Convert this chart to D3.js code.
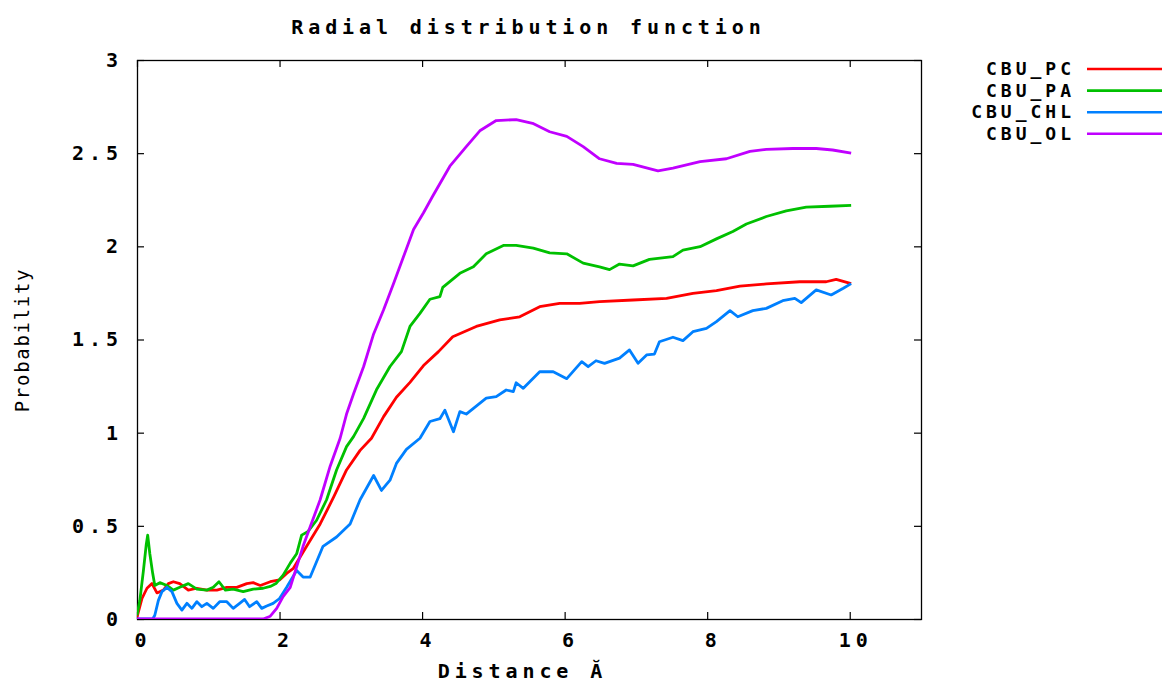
<!DOCTYPE html>
<html>
<head>
<meta charset="utf-8">
<script src="https://cdn.jsdelivr.net/npm/d3@7"></script>
<style>
  body { margin: 0; background: #fff; }
  text { font-family: "DejaVu Sans Mono", monospace; fill: #000; }
</style>
</head>
<body>
<svg id="chart" width="1162" height="684"></svg>
<script>
// readings: [distance, probability]
const cbuPC = [[0,0.01],[0.07,0.11],[0.14,0.165],[0.21,0.19],[0.28,0.14],[0.37,0.155],[0.44,0.19],[0.51,0.2],[0.6,0.19],[0.72,0.155],[0.84,0.165],[0.98,0.155],[1.12,0.155],[1.26,0.17],[1.4,0.17],[1.54,0.19],[1.63,0.195],[1.73,0.18],[1.87,0.2],[2.0,0.21],[2.1,0.245],[2.19,0.27],[2.38,0.39],[2.57,0.51],[2.76,0.655],[2.94,0.8],[3.13,0.905],[3.29,0.97],[3.46,1.086],[3.64,1.19],[3.83,1.27],[4.02,1.36],[4.23,1.435],[4.43,1.515],[4.76,1.57],[5.09,1.605],[5.37,1.622],[5.65,1.676],[5.93,1.694],[6.21,1.694],[6.49,1.703],[6.96,1.712],[7.43,1.721],[7.8,1.748],[8.13,1.762],[8.46,1.787],[8.83,1.798],[9.3,1.81],[9.67,1.81],[9.81,1.823],[10.02,1.8]];
const cbuPA = [[0,0.02],[0.04,0.1],[0.09,0.26],[0.13,0.4],[0.15,0.45],[0.18,0.35],[0.22,0.245],[0.25,0.18],[0.32,0.195],[0.42,0.18],[0.51,0.155],[0.6,0.17],[0.72,0.19],[0.84,0.16],[0.98,0.155],[1.07,0.17],[1.15,0.2],[1.24,0.155],[1.35,0.16],[1.49,0.147],[1.63,0.16],[1.77,0.165],[1.87,0.175],[1.95,0.19],[2.05,0.235],[2.15,0.3],[2.24,0.35],[2.31,0.45],[2.4,0.47],[2.52,0.53],[2.66,0.64],[2.8,0.8],[2.94,0.925],[3.04,0.98],[3.18,1.077],[3.36,1.23],[3.55,1.355],[3.71,1.435],[3.83,1.57],[3.97,1.64],[4.11,1.716],[4.25,1.73],[4.29,1.78],[4.53,1.855],[4.72,1.89],[4.9,1.96],[5.14,2.005],[5.32,2.005],[5.56,1.99],[5.79,1.965],[6.03,1.96],[6.26,1.91],[6.49,1.89],[6.63,1.875],[6.77,1.905],[6.96,1.895],[7.19,1.93],[7.52,1.945],[7.66,1.98],[7.9,1.998],[8.13,2.04],[8.36,2.08],[8.55,2.12],[8.83,2.16],[9.11,2.19],[9.39,2.21],[9.72,2.215],[10.02,2.22]];
const cbuCHL = [[0,0],[0.22,0],[0.25,0.02],[0.3,0.1],[0.35,0.147],[0.42,0.17],[0.49,0.147],[0.56,0.084],[0.63,0.048],[0.7,0.084],[0.77,0.057],[0.84,0.093],[0.91,0.066],[0.98,0.084],[1.07,0.057],[1.16,0.093],[1.26,0.093],[1.35,0.057],[1.44,0.084],[1.51,0.105],[1.58,0.066],[1.68,0.093],[1.75,0.057],[1.82,0.07],[1.91,0.084],[2.0,0.11],[2.1,0.17],[2.24,0.26],[2.33,0.225],[2.43,0.225],[2.61,0.39],[2.8,0.44],[2.99,0.51],[3.13,0.64],[3.32,0.77],[3.43,0.69],[3.55,0.745],[3.64,0.835],[3.78,0.91],[3.97,0.97],[4.11,1.06],[4.25,1.075],[4.32,1.12],[4.44,1.005],[4.53,1.113],[4.62,1.1],[4.9,1.185],[5.04,1.193],[5.18,1.229],[5.28,1.22],[5.32,1.268],[5.42,1.238],[5.65,1.327],[5.84,1.327],[6.03,1.29],[6.24,1.381],[6.33,1.354],[6.44,1.386],[6.56,1.372],[6.77,1.4],[6.91,1.444],[7.03,1.372],[7.15,1.417],[7.26,1.422],[7.33,1.488],[7.52,1.512],[7.66,1.494],[7.8,1.542],[7.99,1.56],[8.13,1.596],[8.32,1.655],[8.43,1.622],[8.64,1.655],[8.83,1.667],[9.06,1.708],[9.23,1.721],[9.32,1.698],[9.53,1.766],[9.74,1.739],[9.91,1.775],[10.02,1.8]];
const cbuOL = [[0,0],[1.77,0],[1.87,0.015],[1.96,0.057],[2.05,0.12],[2.15,0.17],[2.24,0.28],[2.33,0.39],[2.43,0.495],[2.57,0.64],[2.71,0.82],[2.85,0.97],[2.94,1.1],[3.04,1.21],[3.18,1.355],[3.32,1.53],[3.46,1.66],[3.6,1.8],[3.74,1.945],[3.88,2.09],[4.02,2.18],[4.15,2.27],[4.39,2.43],[4.62,2.535],[4.81,2.62],[5.04,2.675],[5.32,2.68],[5.55,2.66],[5.79,2.615],[6.03,2.59],[6.26,2.535],[6.49,2.47],[6.73,2.445],[6.96,2.44],[7.31,2.405],[7.52,2.42],[7.9,2.455],[8.27,2.47],[8.6,2.51],[8.83,2.52],[9.2,2.525],[9.53,2.525],[9.76,2.517],[10.02,2.5]];

const seriesNames = ['CBU_PC', 'CBU_PA', 'CBU_CHL', 'CBU_OL'];
const seriesColors = ['#ff0000', '#00c000', '#0080ff', '#c000ff'];
const xTicks = [0, 2, 4, 6, 8, 10];
const yTicks = [0, 0.5, 1, 1.5, 2, 2.5, 3];

const series = [cbuPC, cbuPA, cbuCHL, cbuOL].map((values, i) => ({
  name: seriesNames[i], color: seriesColors[i], values
}));

const box = { left: 137, right: 921, top: 60, bottom: 619 };
const svg = d3.select('#chart');

const x = d3.scaleLinear().domain([0, 11]).range([box.left, box.right]);
const y = d3.scaleLinear().domain([0, 3]).range([box.bottom, box.top]);

const fontSize = 20;
const spacing = 4.9; // gnuplot's wide pixel font

svg.append('clipPath').attr('id', 'clip')
  .append('rect')
  .attr('x', box.left).attr('y', box.top)
  .attr('width', box.right - box.left).attr('height', box.bottom - box.top);

// axes, ticks pointing inward and mirrored
const fmt = d => String(d);
const axBottom = svg.append('g').attr('transform', `translate(0,${box.bottom})`)
  .call(d3.axisBottom(x).tickValues(xTicks).tickFormat(fmt).tickSize(-7).tickPadding(14));
const axTop = svg.append('g').attr('transform', `translate(0,${box.top})`)
  .call(d3.axisTop(x).tickValues(xTicks).tickFormat('').tickSize(-7));
const axLeft = svg.append('g').attr('transform', `translate(${box.left},0)`)
  .call(d3.axisLeft(y).tickValues(yTicks).tickFormat(fmt).tickSize(-7).tickPadding(19));
const axRight = svg.append('g').attr('transform', `translate(${box.right},0)`)
  .call(d3.axisRight(y).tickValues(yTicks).tickFormat('').tickSize(-7));

for (let g of [axBottom, axTop, axLeft, axRight]) {
  g.select('.domain').remove();
  g.selectAll('line').attr('stroke', '#000').attr('stroke-width', 1.2);
}
for (let g of [axBottom, axLeft]) {
  g.selectAll('text')
    .attr('font-family', '"DejaVu Sans Mono", monospace')
    .attr('font-size', fontSize).attr('font-weight', 'bold')
    .style('letter-spacing', spacing + 'px');
}
axBottom.selectAll('text').attr('dx', spacing / 2 + 3);
axLeft.selectAll('text').attr('dx', spacing);

svg.append('rect')
  .attr('x', box.left + 0.5).attr('y', box.top + 0.5)
  .attr('width', box.right - box.left).attr('height', box.bottom - box.top)
  .attr('fill', 'none').attr('stroke', '#000').attr('stroke-width', 1.3);

// curves
const line = d3.line().x(d => x(d[0])).y(d => y(d[1]));
svg.append('g').attr('clip-path', 'url(#clip)')
  .selectAll('path').data(series).join('path')
  .attr('d', d => line(d.values))
  .attr('fill', 'none')
  .attr('stroke', d => d.color)
  .attr('stroke-width', 2.8)
  .attr('stroke-linejoin', 'round');

// title and axis labels
svg.append('text').attr('x', 526 + spacing / 2).attr('y', 34)
  .attr('text-anchor', 'middle').attr('font-size', fontSize).attr('font-weight', 'bold')
  .style('letter-spacing', spacing + 'px')
  .text('Radial distribution function');

svg.append('text').attr('x', 520 + spacing / 2).attr('y', 678)
  .attr('text-anchor', 'middle').attr('font-size', fontSize).attr('font-weight', 'bold')
  .style('letter-spacing', spacing + 'px')
  .text('Distance Ă');

svg.append('text')
  .attr('transform', 'translate(29,340) rotate(-90)')
  .attr('text-anchor', 'middle').attr('font-size', 19)
  .style('letter-spacing', '1.7px')
  .text('Probability');

// legend
const legend = svg.append('g').selectAll('g').data(series).join('g')
  .attr('transform', (d, i) => `translate(0,${69 + i * 21.6})`);
legend.append('text')
  .attr('x', 1071 + 4).attr('y', 6)
  .attr('text-anchor', 'end').attr('font-size', 18).attr('font-weight', 'bold')
  .style('letter-spacing', '4px')
  .text(d => d.name);
legend.append('line')
  .attr('x1', 1087).attr('x2', 1166)
  .attr('stroke', d => d.color).attr('stroke-width', 2.6);
</script>
</body>
</html>
